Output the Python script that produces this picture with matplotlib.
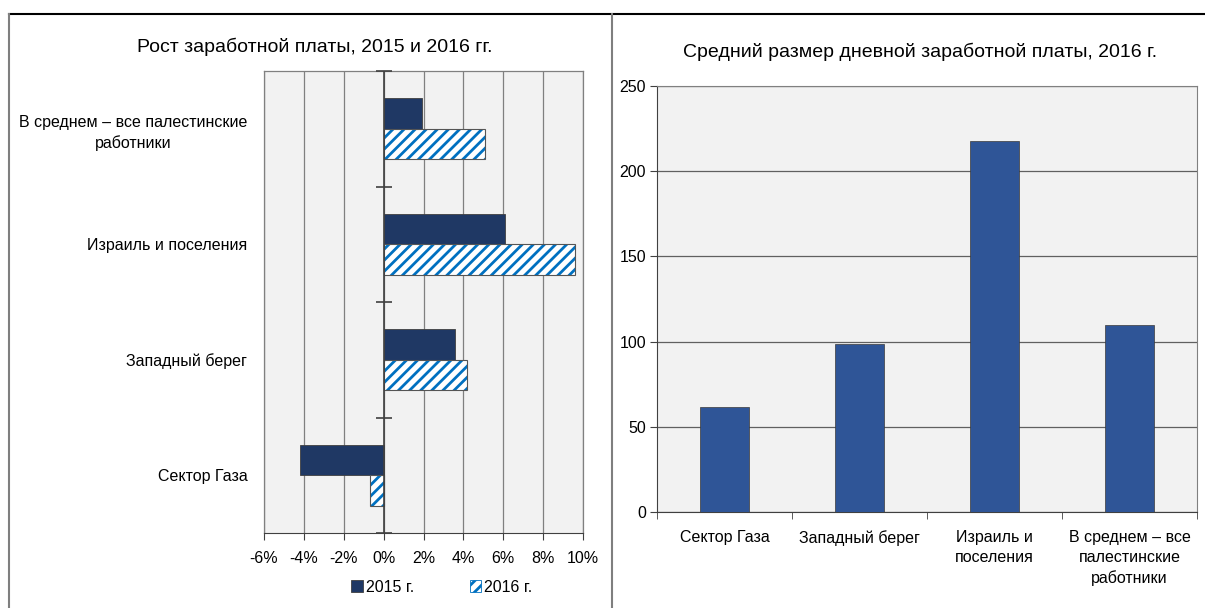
import matplotlib

matplotlib.use("Agg")
import matplotlib.pyplot as plt
import numpy as np
from matplotlib.lines import Line2D
from matplotlib.patches import Patch

plt.rcParams["font.family"] = ["Liberation Sans Narrow", "Liberation Sans", "DejaVu Sans"]
plt.rcParams["hatch.linewidth"] = 2.0

# left chart: wage growth, %
growth_cats = [
    "В среднем – все палестинские\nработники",
    "Израиль и поселения",
    "Западный берег",
    "Сектор Газа",
]
growth_2015 = [1.9, 6.1, 3.6, -4.2]
growth_2016 = [5.1, 9.6, 4.2, -0.7]
growth_ticks = [-6, -4, -2, 0, 2, 4, 6, 8, 10]

# right chart: average daily wage, 2016
wage_cats = [
    "Сектор Газа",
    "Западный берег",
    "Израиль и\nпоселения",
    "В среднем – все\nпалестинские\nработники",
]
wage_2016 = [61.5, 98.5, 218, 109.7]
wage_ticks = [0, 50, 100, 150, 200, 250]

NAVY = "#1f3864"
BLUE = "#2f5597"
HATCH = "#0070c0"
BG = "#f2f2f2"
GRID = "#808080"
FS = 11.5

fig = plt.figure(figsize=(12.05, 6.08), dpi=100)

# ---- left: horizontal grouped bars
ax1 = fig.add_axes([264 / 1205, 1 - 533 / 608, 319 / 1205, 462 / 608])
ax1.set_facecolor(BG)
y = np.arange(len(growth_cats))
h = 0.265
ax1.barh(y - h / 2, growth_2015, height=h, color=NAVY, edgecolor="#404040", lw=0.6, zorder=3)
ax1.barh(y + h / 2, growth_2016, height=h, color="white", edgecolor=HATCH, hatch="///", lw=0, zorder=3)
ax1.barh(y + h / 2, growth_2016, height=h, color="none", edgecolor="#555555", lw=0.8, zorder=4)
ax1.set_xlim(growth_ticks[0], growth_ticks[-1])
ax1.set_ylim(len(growth_cats) - 0.5, -0.5)
ax1.set_xticks(growth_ticks)
ax1.set_xticklabels([f"{t}%" for t in growth_ticks], fontsize=FS)
ax1.set_yticks(y)
ax1.set_yticklabels(growth_cats, fontsize=FS, multialignment="center", linespacing=1.4)
ax1.tick_params(axis="y", length=0, pad=12)
ax1.tick_params(axis="x", direction="out", length=5, color="#404040", pad=8)
ax1.grid(axis="x", color=GRID, lw=0.9, zorder=1)
ax1.axvline(0, color="#404040", lw=1.2, zorder=5)
bounds = np.arange(len(growth_cats) + 1) - 0.5
ax1.plot(np.zeros_like(bounds), bounds, ls="none", marker="_", ms=12, mew=1.2,
         color="#404040", zorder=5, clip_on=False)
for s in ["left", "right", "top"]:
    ax1.spines[s].set_color(GRID)
    ax1.spines[s].set_linewidth(0.9)
ax1.spines["bottom"].set_color("#404040")

fig.text(315 / 1205, 1 - 47 / 608, "Рост заработной платы, 2015 и 2016 гг.",
         ha="center", va="center", fontsize=14)

handles = [
    Patch(facecolor=NAVY, edgecolor="#404040", lw=0.6),
    Patch(facecolor="white", edgecolor=HATCH, hatch="///", lw=0.6),
]
fig.legend(handles, ["2015 г.", "2016 г."], loc="center", ncol=2,
           bbox_to_anchor=(442 / 1205, 1 - 587 / 608), frameon=False,
           fontsize=FS, handlelength=0.7, handleheight=0.7, handletextpad=0.2,
           columnspacing=3.5)

# ---- right: vertical bars
ax2 = fig.add_axes([657 / 1205, 1 - 512 / 608, 540 / 1205, 426 / 608])
ax2.set_facecolor(BG)
x = np.arange(len(wage_cats))
ax2.bar(x, wage_2016, width=0.36, color=BLUE, edgecolor="#3a3a3a", lw=0.5, zorder=3)
ax2.set_xlim(-0.5, len(wage_cats) - 0.5)
ax2.set_ylim(wage_ticks[0], wage_ticks[-1])
ax2.set_yticks(wage_ticks)
ax2.set_yticklabels([str(t) for t in wage_ticks], fontsize=FS)
ax2.set_xticks(x)
ax2.set_xticklabels(wage_cats, fontsize=FS, va="top", multialignment="center", linespacing=1.4)
ax2.set_xticks(np.arange(len(wage_cats) + 1) - 0.5, minor=True)
ax2.tick_params(axis="x", which="major", length=0, pad=13)
ax2.tick_params(axis="x", which="minor", direction="out", length=5, color="#404040")
ax2.tick_params(axis="y", direction="out", length=5, color="#404040", pad=3)
ax2.grid(axis="y", color="#606060", lw=0.9, zorder=1)
for s in ["right", "top"]:
    ax2.spines[s].set_color(GRID)
ax2.spines["left"].set_color("#404040")
ax2.spines["bottom"].set_color("#404040")

fig.text(920 / 1205, 1 - 52 / 608, "Средний размер дневной заработной платы, 2016 г.",
         ha="center", va="center", fontsize=14)

# ---- table frame around both panels
top = 1 - 14 / 608
fig.add_artist(Line2D([9 / 1205, 1], [top, top], color="black", lw=1.5))
fig.add_artist(Line2D([9 / 1205, 9 / 1205], [0, top], color="#7f7f7f", lw=1.5))
fig.add_artist(Line2D([612 / 1205, 612 / 1205], [0, top], color="#7f7f7f", lw=1.5))

fig.savefig("out.png", dpi=100)
